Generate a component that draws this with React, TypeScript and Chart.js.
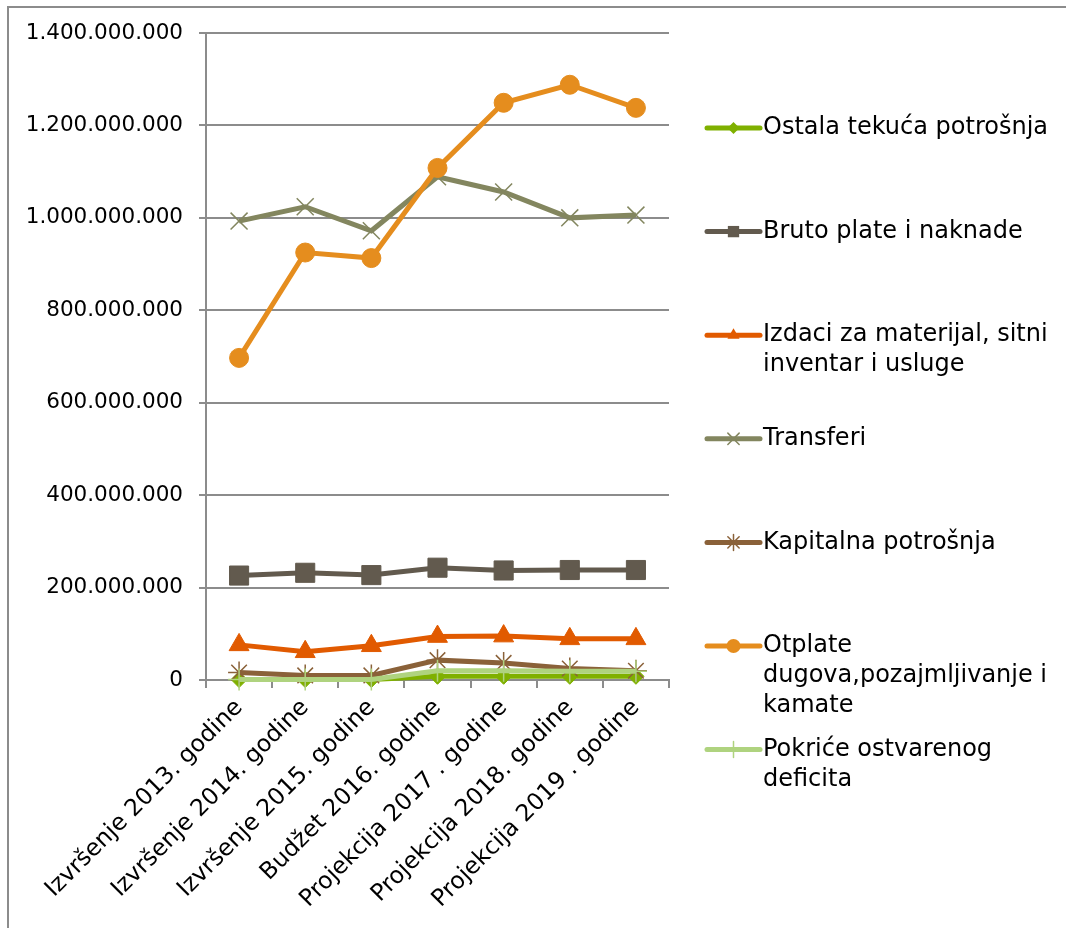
import React, { useEffect, useRef } from 'react';
import { Chart, registerables } from 'chart.js';

Chart.register(...registerables);

const categories = [
  'Izvršenje 2013. godine',
  'Izvršenje 2014. godine',
  'Izvršenje 2015. godine',
  'Budžet 2016. godine',
  'Projekcija 2017 . godine',
  'Projekcija 2018. godine',
  'Projekcija 2019 . godine',
];

const ostalaTekuca = [1000000, 1000000, 1000000, 8000000, 8000000, 8000000, 8000000];
const brutoPlate = [226000000, 232000000, 227000000, 243000000, 237000000, 238000000, 238000000];
const izdaci = [76000000, 61000000, 74000000, 94000000, 95000000, 89000000, 89000000];
const transferi = [993000000, 1024000000, 972000000, 1089000000, 1056000000, 1000000000, 1006000000];
const kapitalna = [16000000, 10000000, 10000000, 43000000, 37000000, 25000000, 20000000];
const otplate = [697000000, 925000000, 913000000, 1108000000, 1249000000, 1288000000, 1238000000];
const pokrice = [1000000, 1000000, 1000000, 20000000, 20000000, 19000000, 19000000];

const legendLines = [
  ['Ostala tekuća potrošnja'],
  ['Bruto plate i naknade'],
  ['Izdaci za materijal, sitni', 'inventar i usluge'],
  ['Transferi'],
  ['Kapitalna potrošnja'],
  ['Otplate', 'dugova,pozajmljivanje i', 'kamate'],
  ['Pokriće ostvarenog', 'deficita'],
];

const yTicksMax = 1400000000;
const yTicksStep = 200000000;

const FONT = '"DejaVu Sans", sans-serif';

type SeriesStyle = {
  color: string;
  style: string;
  radius: number;
  legendRadius: number;
  markerBorder: number;
};

const styles: SeriesStyle[] = [
  { color: '#7FB000', style: 'rectRot', radius: 8, legendRadius: 6, markerBorder: 1 },
  { color: '#625A4E', style: 'rect', radius: 13.5, legendRadius: 8, markerBorder: 1 },
  { color: '#E15A00', style: 'triangle', radius: 11.5, legendRadius: 7, markerBorder: 1 },
  { color: '#83865F', style: 'crossRot', radius: 12, legendRadius: 8, markerBorder: 1.5 },
  { color: '#8A6139', style: 'star', radius: 11, legendRadius: 8, markerBorder: 1.5 },
  { color: '#E58D1E', style: 'circle', radius: 9.5, legendRadius: 7, markerBorder: 1 },
  { color: '#AFD37F', style: 'cross', radius: 11, legendRadius: 8, markerBorder: 1.5 },
];

const seriesData = [ostalaTekuca, brutoPlate, izdaci, transferi, kapitalna, otplate, pokrice];

function drawMarker(ctx: CanvasRenderingContext2D, style: string, x: number, y: number, r: number, color: string, bw: number) {
  ctx.save();
  ctx.fillStyle = color;
  ctx.strokeStyle = color;
  ctx.lineWidth = bw;
  ctx.beginPath();
  if (style === 'circle') {
    ctx.arc(x, y, r, 0, Math.PI * 2);
    ctx.fill();
  } else if (style === 'rect') {
    const s = r * Math.SQRT1_2;
    ctx.rect(x - s, y - s, 2 * s, 2 * s);
    ctx.fill();
  } else if (style === 'rectRot') {
    ctx.moveTo(x, y - r);
    ctx.lineTo(x + r, y);
    ctx.lineTo(x, y + r);
    ctx.lineTo(x - r, y);
    ctx.closePath();
    ctx.fill();
  } else if (style === 'triangle') {
    ctx.moveTo(x, y - r);
    ctx.lineTo(x + r * 0.866, y + r * 0.5);
    ctx.lineTo(x - r * 0.866, y + r * 0.5);
    ctx.closePath();
    ctx.fill();
  } else if (style === 'crossRot') {
    const o = r * Math.SQRT1_2;
    ctx.moveTo(x - o, y - o); ctx.lineTo(x + o, y + o);
    ctx.moveTo(x - o, y + o); ctx.lineTo(x + o, y - o);
    ctx.stroke();
  } else if (style === 'star') {
    const o = r * Math.SQRT1_2;
    ctx.moveTo(x - o, y - o); ctx.lineTo(x + o, y + o);
    ctx.moveTo(x - o, y + o); ctx.lineTo(x + o, y - o);
    ctx.moveTo(x, y - r); ctx.lineTo(x, y + r);
    ctx.moveTo(x - r, y); ctx.lineTo(x + r, y);
    ctx.stroke();
  } else if (style === 'cross') {
    ctx.moveTo(x, y - r); ctx.lineTo(x, y + r);
    ctx.moveTo(x - r, y); ctx.lineTo(x + r, y);
    ctx.stroke();
  }
  ctx.restore();
}

const framePlugin = {
  id: 'frame',
  beforeDraw(chart: any) {
    const ctx = chart.ctx as CanvasRenderingContext2D;
    ctx.save();
    ctx.fillStyle = '#ffffff';
    ctx.fillRect(0, 0, chart.width, chart.height);
    ctx.strokeStyle = '#8c8c8c';
    ctx.lineWidth = 2;
    ctx.beginPath();
    ctx.moveTo(8, chart.height + 5);
    ctx.lineTo(8, 7);
    ctx.lineTo(chart.width + 5, 7);
    ctx.stroke();
    ctx.restore();
  },
};

const legendPlugin = {
  id: 'customLegend',
  afterDraw(chart: any) {
    const ctx = chart.ctx as CanvasRenderingContext2D;
    const x0 = 707;
    const x1 = 760;
    const textX = 763;
    const startY = 128;
    const stepY = 103.6;
    const lineH = 30;
    ctx.save();
    ctx.font = `24px ${FONT}`;
    ctx.textBaseline = 'middle';
    ctx.textAlign = 'left';
    legendLines.forEach((lines, i) => {
      const st = styles[i];
      const y = startY + i * stepY;
      ctx.strokeStyle = st.color;
      ctx.lineWidth = 5;
      ctx.lineCap = 'round';
      ctx.beginPath();
      ctx.moveTo(x0, y);
      ctx.lineTo(x1, y);
      ctx.stroke();
      drawMarker(ctx, st.style, (x0 + x1) / 2, y, st.legendRadius, st.color, st.markerBorder);
      ctx.fillStyle = '#000000';
      lines.forEach((t, j) => {
        ctx.fillText(t, textX, y + j * lineH);
      });
    });
    ctx.restore();
  },
};

export default function App() {
  const ref = useRef<HTMLCanvasElement | null>(null);

  useEffect(() => {
    if (!ref.current) return;
    const datasets = seriesData.map((d, i) => {
      const st = styles[i];
      return {
        label: legendLines[i].join(' '),
        data: d,
        borderColor: st.color,
        backgroundColor: st.color,
        borderWidth: 5,
        pointStyle: st.style as any,
        pointRadius: st.radius,
        pointBorderWidth: st.markerBorder,
        pointBorderColor: st.color,
        pointBackgroundColor: st.color,
        tension: 0,
        order: 6 - i,
        clip: false as any,
      };
    });
    const chart = new Chart(ref.current, {
      type: 'line',
      data: { labels: categories, datasets },
      options: {
        responsive: false,
        animation: false,
        layout: { padding: { top: 33, right: 397, left: 0, bottom: 0 } },
        plugins: {
          legend: { display: false },
          tooltip: { enabled: false },
          title: { display: false },
        },
        scales: {
          x: {
            offset: true,
            grid: {
              display: true,
              drawOnChartArea: false,
              drawTicks: true,
              tickLength: 8,
              color: '#8c8c8c',
              lineWidth: 2,
              offset: true,
            },
            border: { display: true, color: '#8c8c8c', width: 2 },
            ticks: {
              maxRotation: 45,
              minRotation: 45,
              autoSkip: false,
              padding: 6,
              color: '#000000',
              font: { family: FONT, size: 23.5 },
            },
            afterFit: (scale: any) => {
              scale.height = 248;
              scale.paddingLeft = 0;
              scale.paddingRight = 0;
            },
          },
          y: {
            min: 0,
            max: yTicksMax,
            grid: {
              color: '#8c8c8c',
              lineWidth: 2,
              tickLength: 7,
            },
            border: { display: true, color: '#8c8c8c', width: 2 },
            ticks: {
              stepSize: yTicksStep,
              padding: 16,
              color: '#000000',
              font: { family: FONT, size: 21.5 },
              callback: (v: any) => Number(v).toLocaleString('de-DE'),
            },
            afterFit: (scale: any) => {
              scale.width = 206;
            },
          },
        },
      },
      plugins: [framePlugin, legendPlugin],
    });
    return () => chart.destroy();
  }, []);

  return (
    <div style={{ position: 'absolute', left: 0, top: 0, width: 1066, height: 928, background: '#fff' }}>
      <canvas ref={ref} width={1066} height={928} style={{ width: 1066, height: 928, display: 'block' }} />
    </div>
  );
}
